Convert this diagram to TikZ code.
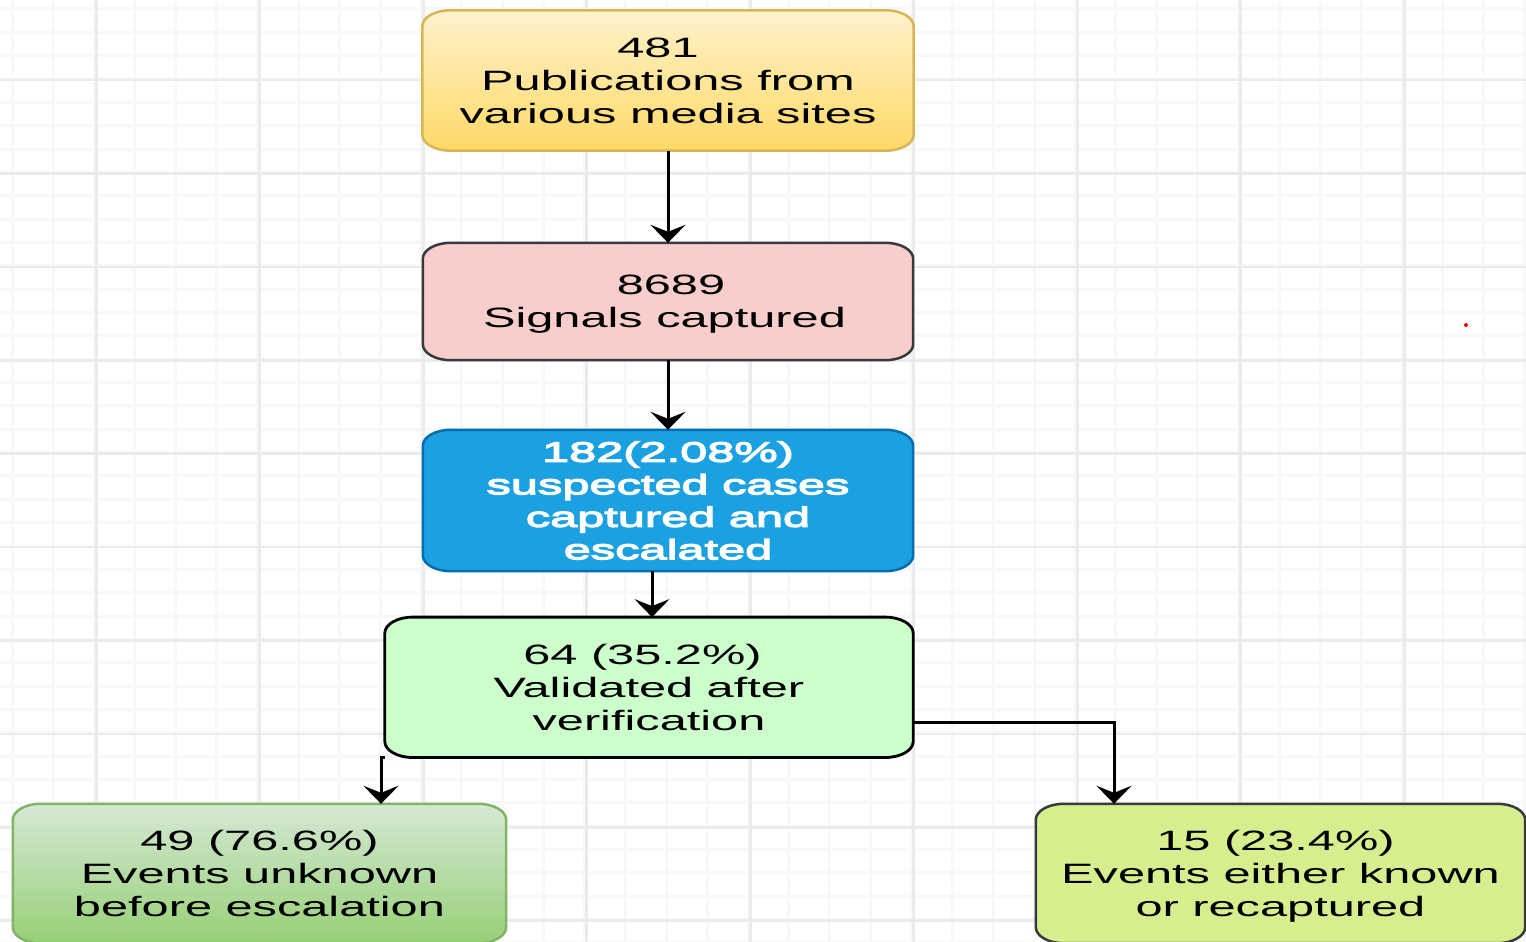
\documentclass[tikz,border=0pt]{standalone}
\usepackage{fontspec}
\setmainfont{Liberation Sans}[FakeStretch=1.74]
\newfontfamily\heavyface{Liberation Sans}[FakeStretch=1.74, FakeBold=4.5]
\usetikzlibrary{arrows.meta,calc}

\definecolor{gridminor}{HTML}{F8F8F8}
\definecolor{gridmajor}{HTML}{EBEBEB}
\definecolor{pubtop}{HTML}{FFF2CC}
\definecolor{pubbot}{HTML}{FFD966}
\definecolor{publine}{HTML}{D6B656}
\definecolor{sigfill}{HTML}{F8CECC}
\definecolor{darkline}{HTML}{36393D}
\definecolor{susfill}{HTML}{1BA1E2}
\definecolor{susline}{HTML}{006EAF}
\definecolor{valfill}{HTML}{CCFFCC}
\definecolor{unktop}{HTML}{D5E8D4}
\definecolor{unkbot}{HTML}{97D077}
\definecolor{unkline}{HTML}{82B366}
\definecolor{knofill}{HTML}{D7EE8F}

\pgfdeclarelayer{bg}
\pgfsetlayers{bg,main}

% rounded panel with elliptical corners behind a named node
\newcommand\panelshape[2]{%
  \path[#2] let \p1=(#1.south west), \p2=(#1.north east) in
    (\x1+28pt,\y1) -- (\x2-28pt,\y1)
    arc[start angle=-90,end angle=0,x radius=28pt,y radius=16pt]
    -- (\x2,\y2-16pt)
    arc[start angle=0,end angle=90,x radius=28pt,y radius=16pt]
    -- (\x1+28pt,\y2)
    arc[start angle=90,end angle=180,x radius=28pt,y radius=16pt]
    -- (\x1,\y1+16pt)
    arc[start angle=180,end angle=270,x radius=28pt,y radius=16pt]
    -- cycle;}

\tikzset{
  stagebox/.style={inner sep=0pt, align=center, text=black,
    font=\fontsize{28}{33}\selectfont},
  flow/.style={line width=3pt, draw=black,
    -{Stealth[length=18pt,width=35pt,inset=7pt]}},
  minorline/.style={draw=gridminor, line width=3pt},
  majorline/.style={draw=gridmajor, line width=2.6pt},
}

\begin{document}
\begin{tikzpicture}[x=1pt, y=-1pt]
\useasboundingbox (0,0) rectangle (1526,942);

% flow stages
\node[stagebox, minimum width=491pt, minimum height=140pt] (pub) at (668,80.5)
  {481\hspace*{20pt}\\Publications from\\various media sites};
\node[stagebox, minimum width=490pt, minimum height=117pt] (sig) at (668,301.5)
  {\hspace*{6pt}8689\\\smash{Signals captured}\hspace*{7pt}};
\node[stagebox, minimum width=490pt, minimum height=141pt, text=white,
  font=\fontsize{28}{32.5}\selectfont\heavyface] (sus) at (668,500.5)
  {182(2.08\%)\\suspected cases\\captured and\\escalated};
\node[stagebox, minimum width=528pt, minimum height=140pt] (val) at (649,687.3)
  {64 (35.2\%)\hspace*{13pt}\\Validated after\\verification};
\node[stagebox, minimum width=493pt, minimum height=139pt] (unk) at (259.5,873.5)
  {49 (76.6\%)\\Events unknown\\before escalation};
\node[stagebox, minimum width=489pt, minimum height=139pt] (kno) at (1280.5,873.5)
  {15 (23.4\%)\hspace*{10pt}\\Events either known\\\smash{or recaptured}};

\begin{pgfonlayer}{bg}
  \fill[white] (0,0) rectangle (1526,942);
  % fine grid
  \foreach \i in {-3,...,37} {
    \draw[minorline] ({94+\i*40.875},0) -- ({94+\i*40.875},942);
  }
  \foreach \j in {-4,...,37} {
    \draw[minorline] (0,{79+\j*23.35}) -- (1526,{79+\j*23.35});
  }
  % major grid
  \foreach \i in {-1,...,9} {
    \draw[majorline, line width=3pt] ({96+\i*163.5},0) -- ({96+\i*163.5},942);
  }
  \foreach \j in {-1,...,9} {
    \draw[majorline] (0,{80+\j*93.4}) -- (1526,{80+\j*93.4});
  }
  % panels
  \panelshape{pub}{top color=pubtop, bottom color=pubbot, draw=publine, line width=2.5pt}
  \panelshape{sig}{fill=sigfill, draw=darkline, line width=2.5pt}
  \panelshape{sus}{fill=susfill, draw=susline, line width=2.5pt}
  \panelshape{val}{fill=valfill, draw=black, line width=2.8pt}
  \panelshape{unk}{top color=unktop, bottom color=unkbot, draw=unkline, line width=2.5pt}
  \panelshape{kno}{fill=knofill, draw=darkline, line width=2.5pt}
\end{pgfonlayer}

% connectors
\draw[flow] (pub.south) -- (sig.north);
\draw[flow] (sig.south) -- (sus.north);
\draw[flow] ([xshift=-16pt]sus.south) -- ([xshift=-16pt]sus.south |- val.north);
\draw[flow] (val.south west) -| ([xshift=121.5pt]unk.north);
\draw[flow] ([yshift=-35pt]val.east) -| ([xshift=-166.5pt]kno.north);

% stray red mark
\fill[red] (1466,325) circle[radius=2pt];
\end{tikzpicture}
\end{document}
